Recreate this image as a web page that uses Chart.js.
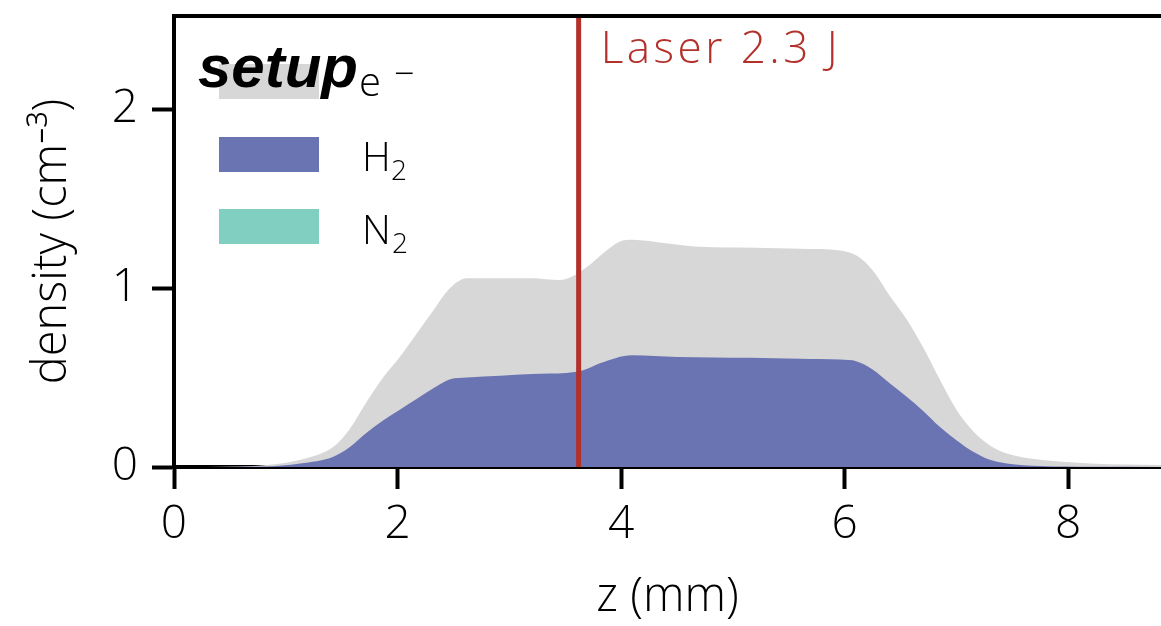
<!DOCTYPE html>
<html>
<head>
<meta charset="utf-8">
<script src="https://cdn.jsdelivr.net/npm/chart.js@4.4.0/dist/chart.umd.min.js"></script>
<style>
    html, body { margin: 0; padding: 0; background: #fff; overflow: hidden; }
    #wrap { width: 1161px; height: 626px; }
</style>
</head>
<body>
<div id="wrap"><canvas id="densityChart" width="1161" height="626"></canvas></div>
<script>
// electron density (e-) profile
const zElectron = [0, 0.6, 0.9, 1.13, 1.42, 1.57, 1.72, 1.87, 2.02, 2.17, 2.32, 2.47, 2.62, 2.92, 3.2, 3.45, 3.55, 3.7, 3.85, 3.99, 4.1, 4.4, 4.7, 5.2, 5.6, 5.96, 6.11, 6.25, 6.4, 6.56, 6.7, 6.85, 7.0, 7.15, 7.3, 7.45, 7.75, 8.2, 9.0];
const electron = [0, 0.003, 0.015, 0.04, 0.11, 0.21, 0.36, 0.5, 0.615, 0.745, 0.875, 1.0, 1.055, 1.055, 1.055, 1.045, 1.06, 1.12, 1.2, 1.26, 1.27, 1.25, 1.23, 1.225, 1.22, 1.21, 1.18, 1.1, 0.96, 0.82, 0.67, 0.49, 0.32, 0.2, 0.12, 0.075, 0.04, 0.02, 0.01];

// H2 density profile
const zH2 = [0, 0.8, 1.13, 1.42, 1.57, 1.72, 1.87, 2.02, 2.17, 2.32, 2.47, 2.62, 2.92, 3.2, 3.51, 3.66, 3.81, 4.1, 4.5, 5.15, 5.6, 5.96, 6.11, 6.25, 6.4, 6.56, 6.7, 6.85, 7.0, 7.15, 7.3, 7.45, 7.75, 8.2, 9.0];
const h2 = [0, 0.003, 0.02, 0.056, 0.11, 0.19, 0.26, 0.32, 0.38, 0.44, 0.49, 0.5, 0.51, 0.52, 0.525, 0.54, 0.58, 0.625, 0.615, 0.61, 0.605, 0.6, 0.59, 0.545, 0.47, 0.39, 0.315, 0.225, 0.15, 0.085, 0.04, 0.02, 0.005, 0.001, 0];

// N2 is in the legend but not present in this setup
const zN2 = [0, 9.0];
const n2 = [0, 0];

const laserZ = 3.62;
const laserLabel = 'Laser 2.3 J';
const xTicks = [0, 2, 4, 6, 8];
const yTicks = [0, 1, 2];
const xMax = 8.83;
const yMax = 2.52;

const colors = {
    electron: '#d7d7d7',
    h2: '#6b74b2',
    n2: '#80cfc1',
    laser: '#b3302b'
};

const FONT = '"Open Sans", Roboto, "Liberation Sans", sans-serif';

function toPoints(xs, ys) {
    return xs.map((x, i) => ({ x: x, y: ys[i] }));
}

const decorations = {
    id: 'decorations',
    afterDatasetsDraw(chart) {
        const ctx = chart.ctx;
        const area = chart.chartArea;
        const xs = chart.scales.x;
        ctx.save();
        // top spine
        ctx.strokeStyle = '#000';
        ctx.lineWidth = 4;
        ctx.beginPath();
        ctx.moveTo(area.left - 2, area.top);
        ctx.lineTo(area.right + 5, area.top);
        ctx.stroke();

        // laser label
        ctx.fillStyle = colors.laser;
        ctx.font = '300 44px ' + FONT;
        ctx.letterSpacing = '3.5px';
        ctx.textBaseline = 'alphabetic';
        ctx.textAlign = 'left';
        ctx.fillText(laserLabel, xs.getPixelForValue(laserZ) + 22, 63);
        ctx.letterSpacing = '0px';

        // legend
        const ds = chart.data.datasets;
        const items = [ds[3], ds[1], ds[2]];
        const rows = [64, 137, 209];
        items.forEach((d, i) => {
            ctx.fillStyle = d.backgroundColor;
            ctx.fillRect(219, rows[i], 100, 35);
        });

        ctx.fillStyle = '#000';
        ctx.font = '300 40px ' + FONT;
        ctx.fillText('H', 362, 171);
        ctx.fillText('N', 362, 244);
        ctx.font = '300 28px ' + FONT;
        ctx.fillText('2', 391, 180);
        ctx.fillText('2', 392, 253);

        ctx.font = '300 40px ' + FONT;
        ctx.fillText('e', 359, 96);
        ctx.font = '300 36px ' + FONT;
        ctx.fillText('\u2212', 394, 86);

        // legend title, bold italic
        ctx.font = 'italic bold 60px "Liberation Sans", Arial, sans-serif';
        ctx.fillText('setup', 198, 87);

        ctx.restore();
    }
};

const ctx = document.getElementById('densityChart').getContext('2d');
new Chart(ctx, {
    type: 'line',
    data: {
        datasets: [
            {
                label: 'Laser',
                data: [{ x: laserZ, y: 0 }, { x: laserZ, y: yMax }],
                borderColor: colors.laser,
                borderWidth: 5,
                pointRadius: 0,
                fill: false,
                order: 0
            },
            {
                label: 'H2',
                data: toPoints(zH2, h2),
                borderWidth: 0,
                borderColor: colors.h2,
                backgroundColor: colors.h2,
                pointRadius: 0,
                fill: 'origin',
                cubicInterpolationMode: 'monotone',
                order: 1
            },
            {
                label: 'N2',
                data: toPoints(zN2, n2),
                borderWidth: 0,
                borderColor: colors.n2,
                backgroundColor: colors.n2,
                pointRadius: 0,
                fill: 'origin',
                order: 2
            },
            {
                label: 'e-',
                data: toPoints(zElectron, electron),
                borderWidth: 0,
                borderColor: colors.electron,
                backgroundColor: colors.electron,
                pointRadius: 0,
                fill: 'origin',
                cubicInterpolationMode: 'monotone',
                order: 3
            }
        ]
    },
    options: {
        responsive: false,
        animation: false,
        layout: { padding: { top: 16, right: 0, left: 0, bottom: 0 } },
        plugins: {
            legend: { display: false },
            tooltip: { enabled: false }
        },
        scales: {
            x: {
                type: 'linear',
                min: 0,
                max: xMax,
                afterFit: s => { s.height = 159; s.paddingLeft = 0; s.paddingRight = 0; },
                afterBuildTicks: s => { s.ticks = xTicks.map(v => ({ value: v })); },
                border: { display: true, color: '#000', width: 4 },
                grid: { display: true, drawOnChartArea: false, drawTicks: true, tickLength: 22, tickWidth: 4, tickColor: '#000' },
                ticks: {
                    color: '#000',
                    padding: 8,
                    font: { family: FONT, size: 46, weight: 300 }
                },
                title: {
                    display: true,
                    text: 'z (mm)',
                    color: '#000',
                    padding: { top: 0, bottom: 0 },
                    font: { family: FONT, size: 47, weight: 300 }
                }
            },
            y: {
                type: 'linear',
                min: 0,
                max: yMax,
                afterFit: s => { s.width = 174; s.paddingTop = 0; s.paddingBottom = 0; },
                afterBuildTicks: s => { s.ticks = yTicks.map(v => ({ value: v })); },
                border: { display: true, color: '#000', width: 4 },
                grid: { display: true, drawOnChartArea: false, drawTicks: true, tickLength: 22, tickWidth: 4, tickColor: '#000' },
                ticks: {
                    color: '#000',
                    padding: 14,
                    font: { family: FONT, size: 46, weight: 300 }
                },
                title: {
                    display: true,
                    text: 'density (cm\u207B\u00B3)',
                    color: '#000',
                    padding: { top: 24, bottom: 0 },
                    font: { family: FONT, size: 47, weight: 300 }
                }
            }
        }
    },
    plugins: [decorations]
});
</script>
</body>
</html>
